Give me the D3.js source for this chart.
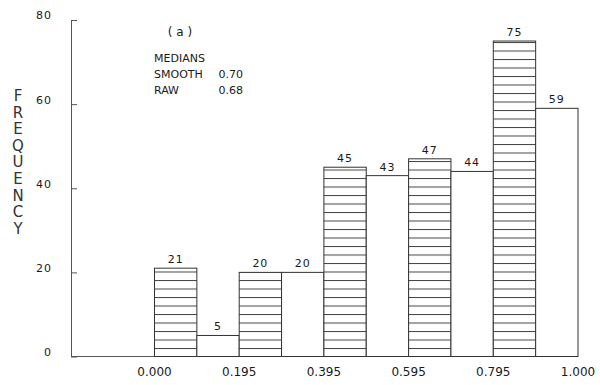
<!DOCTYPE html>
<html lang="en">
<head>
    <meta charset="UTF-8">
    <title>Frequency histogram (a)</title>
    <style>
        body { margin: 0; background: #fff; }
        svg text { font-family: "DejaVu Sans", Arial, sans-serif; fill: #1a1a1a; }
    </style>
</head>
<body>
<div id="chart"></div>
<script src="https://d3js.org/d3.v7.min.js"></script>
<script>
    // bin counts, left to right (10 bins over 0..1)
    const counts = [21, 5, 20, 20, 45, 43, 47, 44, 75, 59];
    // hatched bins alternate with open bins
    const hatched = [true, false, true, false, true, false, true, false, true, false];
    const xTickPos = [0, 0.2, 0.4, 0.6, 0.8, 1.0];
    const xTickLabels = ["0.000", "0.195", "0.395", "0.595", "0.795", "1.000"];
    const yTicks = [0, 20, 40, 60, 80];
    const axisTitle = "FREQUENCY";
    const notes = ["MEDIANS", "SMOOTH", "RAW"];
    const noteValues = ["", "0.70", "0.68"];

    const width = 600, height = 385;
    const axisX = 71, x0 = 154.5, x1 = 578;
    const yBase = 356.5, yTop = 20;

    const svg = d3.select("#chart").append("svg")
        .attr("width", width)
        .attr("height", height);

    const x = d3.scaleLinear().domain([0, 1]).range([x0, x1]);
    const y = d3.scaleLinear().domain([0, 80]).range([yBase, yTop]);
    const binW = 1 / counts.length;

    // horizontal hatch lines, anchored to the baseline
    const defs = svg.append("defs");
    const pat = defs.append("pattern")
        .attr("id", "hatch")
        .attr("patternUnits", "userSpaceOnUse")
        .attr("x", 0).attr("y", yBase)
        .attr("width", 10).attr("height", 8.5);
    pat.append("rect").attr("width", 10).attr("height", 8.5).attr("fill", "#fff");
    pat.append("line")
        .attr("x1", 0).attr("x2", 10)
        .attr("y1", 0.5).attr("y2", 0.5)
        .attr("stroke", "#444").attr("stroke-width", 1);

    // y axis, ticks pointing inward
    const yAxis = d3.axisLeft(y)
        .tickValues(yTicks)
        .tickSizeInner(-6)
        .tickSizeOuter(0)
        .tickPadding(19);
    const gy = svg.append("g")
        .attr("transform", `translate(${axisX},0)`)
        .call(yAxis);
    gy.select(".domain").attr("stroke", "#555");
    gy.selectAll(".tick line").attr("stroke", "#555");
    gy.selectAll(".tick text")
        .attr("font-size", 11)
        .attr("font-family", "DejaVu Sans, Arial, sans-serif")
        .attr("letter-spacing", 1)
        .attr("dy", "-0.1em");

    // baseline
    svg.append("line")
        .attr("x1", axisX).attr("x2", x(1))
        .attr("y1", yBase).attr("y2", yBase)
        .attr("stroke", "#555").attr("stroke-width", 1);

    // bars
    svg.append("g")
        .selectAll("rect")
        .data(counts)
        .enter()
        .append("rect")
        .attr("x", (d, i) => x(i * binW))
        .attr("y", d => y(d))
        .attr("width", x(binW) - x(0))
        .attr("height", d => yBase - y(d))
        .attr("fill", (d, i) => hatched[i] ? "url(#hatch)" : "#fff")
        .attr("stroke", "#333")
        .attr("stroke-width", 1);

    // count labels above bars
    svg.append("g")
        .selectAll("text")
        .data(counts)
        .enter()
        .append("text")
        .attr("x", (d, i) => x((i + 0.5) * binW))
        .attr("y", d => y(d) - 5)
        .attr("text-anchor", "middle")
        .attr("font-size", 11)
        .attr("letter-spacing", 1)
        .text(d => d);

    // x tick labels at bin edges
    svg.append("g")
        .selectAll("text")
        .data(xTickPos)
        .enter()
        .append("text")
        .attr("x", d => x(d))
        .attr("y", 376)
        .attr("text-anchor", "middle")
        .attr("font-size", 12)
        .text((d, i) => xTickLabels[i]);

    // vertical axis title, one letter per line
    svg.append("g")
        .selectAll("text")
        .data(axisTitle.split(""))
        .enter()
        .append("text")
        .attr("x", 18)
        .attr("y", (d, i) => 101 + i * 16.6)
        .attr("text-anchor", "middle")
        .attr("font-size", 15)
        .style("fill", "#333")
        .text(d => d);

    // panel tag and medians note
    svg.append("text")
        .attr("x", 180).attr("y", 36)
        .attr("text-anchor", "middle")
        .attr("font-size", 12)
        .text("( a )");

    const note = svg.append("g");
    note.selectAll("text.k")
        .data(notes)
        .enter()
        .append("text")
        .attr("class", "k")
        .attr("x", 154)
        .attr("y", (d, i) => 62 + i * 16)
        .attr("font-size", 11)
        .text(d => d);
    note.selectAll("text.v")
        .data(noteValues)
        .enter()
        .append("text")
        .attr("class", "v")
        .attr("x", 243)
        .attr("y", (d, i) => 62 + i * 16)
        .attr("text-anchor", "end")
        .attr("font-size", 11)
        .text(d => d);
</script>
</body>
</html>
